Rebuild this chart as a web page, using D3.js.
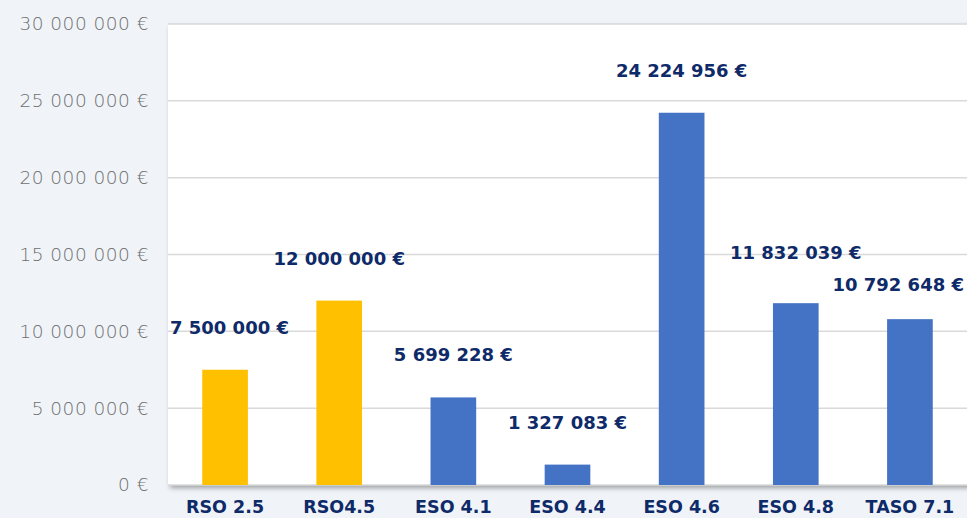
<!DOCTYPE html>
<html>
<head>
<meta charset="utf-8">
<script src="https://cdn.jsdelivr.net/npm/d3@7"></script>
<style>
  html, body { margin: 0; padding: 0; background: #f0f4f8; }
  svg { display: block; }
</style>
</head>
<body>
<div id="chart"></div>
<script>
  const categories = ['RSO 2.5', 'RSO4.5', 'ESO 4.1', 'ESO 4.4', 'ESO 4.6', 'ESO 4.8', 'TASO 7.1'];
  const amounts = [7500000, 12000000, 5699228, 1327083, 24224956, 11832039, 10792648];
  const barColors = ['#ffc000', '#ffc000', '#4472c4', '#4472c4', '#4472c4', '#4472c4', '#4472c4'];
  const yTicks = [0, 5000000, 10000000, 15000000, 20000000, 25000000, 30000000];

  const width = 967, height = 518;
  const m = { top: 24, right: 0, bottom: 33, left: 168 };

  // "12 000 000 €" style, space as thousands separator
  const fmt = v => d3.format(',')(v).replace(/,/g, ' ') + ' €';

  const svg = d3.select('#chart').append('svg')
    .attr('width', width).attr('height', height);

  const defs = svg.append('defs');
  const sh = defs.append('filter').attr('id', 'shadow')
    .attr('x', '-5%').attr('y', '-5%').attr('width', '110%').attr('height', '115%');
  sh.append('feDropShadow').attr('dx', 2).attr('dy', 3).attr('stdDeviation', 2.5)
    .attr('flood-color', '#000').attr('flood-opacity', 0.35);

  const x = d3.scaleBand().domain(categories)
    .range([m.left, width - m.right]).paddingInner(0.6).paddingOuter(0.3);
  const y = d3.scaleLinear().domain([0, 30000000]).range([height - m.bottom, m.top]);

  // plot area
  svg.append('rect')
    .attr('x', m.left).attr('y', m.top)
    .attr('width', width - m.left + 10).attr('height', y(0) - m.top)
    .attr('fill', '#fff').attr('filter', 'url(#shadow)');

  // gridlines
  svg.append('g').selectAll('line').data(yTicks).join('line')
    .attr('x1', m.left).attr('x2', width)
    .attr('y1', d => y(d)).attr('y2', d => y(d))
    .attr('stroke', '#d9d9d9').attr('stroke-width', 1.5);

  // y axis labels
  const yAxis = svg.append('g')
    .attr('transform', `translate(${m.left - 19},0)`)
    .call(d3.axisLeft(y).tickValues(yTicks).tickFormat(fmt).tickSize(0).tickPadding(0));
  yAxis.select('.domain').remove();
  yAxis.selectAll('text')
    .attr('font-family', 'DejaVu Sans, sans-serif')
    .attr('font-size', 18.5).attr('font-weight', 200)
    .attr('letter-spacing', 0.5)
    .attr('fill', '#6e6e6e');

  // bars
  svg.append('g').selectAll('rect').data(amounts).join('rect')
    .attr('x', (d, i) => x(categories[i]))
    .attr('width', x.bandwidth())
    .attr('y', d => y(d))
    .attr('height', d => y(0) - y(d))
    .attr('fill', (d, i) => barColors[i]);

  // value labels
  const labels = svg.append('g').selectAll('text').data(amounts).join('text')
    .attr('x', (d, i) => x(categories[i]) + x.bandwidth() / 2)
    .attr('y', d => y(d) - 36)
    .attr('text-anchor', 'middle')
    .attr('font-family', 'DejaVu Sans, sans-serif')
    .attr('font-size', 18).attr('font-weight', 700)
    .attr('fill', '#0e2a68')
    .text(d => fmt(d))
    .each(function () {
      // keep labels inside the plot area sideways
      const b = this.getBBox();
      const cx = +this.getAttribute('x');
      if (b.x + b.width > width - 3) this.setAttribute('x', cx - (b.x + b.width - width + 3));
      else if (b.x < m.left + 2) this.setAttribute('x', cx + (m.left + 2 - b.x));
    });

  // neighbours that overlap sideways get pushed apart vertically
  const nodes = labels.nodes();
  for (let i = 1; i < nodes.length; i++) {
    const a = nodes[i - 1].getBBox(), b = nodes[i].getBBox();
    if (a.x + a.width <= b.x) continue;
    const ya = +nodes[i - 1].getAttribute('y'), yb = +nodes[i].getAttribute('y');
    const gap = Math.abs(ya - yb), minGap = 32;
    if (gap >= minGap) continue;
    const half = (minGap - gap) / 2;
    const up = ya <= yb ? nodes[i - 1] : nodes[i];
    const down = up === nodes[i] ? nodes[i - 1] : nodes[i];
    up.setAttribute('y', +up.getAttribute('y') - half);
    down.setAttribute('y', +down.getAttribute('y') + half);
  }

  // category labels
  const xAxis = svg.append('g')
    .attr('transform', `translate(0,${y(0)})`)
    .call(d3.axisBottom(x).tickSize(0).tickPadding(16));
  xAxis.select('.domain').remove();
  xAxis.selectAll('text')
    .attr('font-family', 'DejaVu Sans, sans-serif')
    .attr('font-size', 17.5).attr('font-weight', 700)
    .attr('fill', '#0e2a68');
</script>
</body>
</html>
